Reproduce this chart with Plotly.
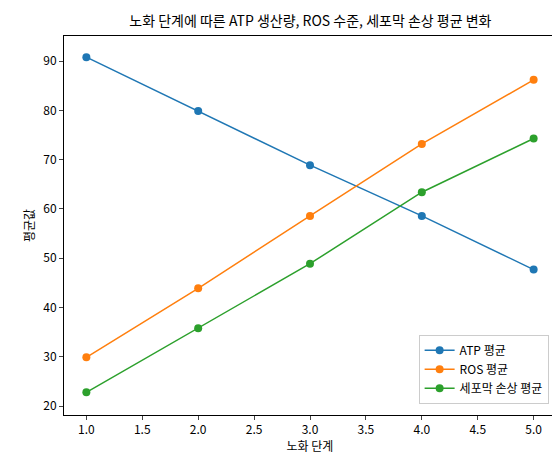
import plotly.graph_objects as go

stages = [1, 2, 3, 4, 5]
atp = [90.8, 79.9, 68.9, 58.6, 47.7]
ros = [29.9, 43.9, 58.6, 73.2, 86.2]
damage = [22.8, 35.8, 48.9, 63.4, 74.3]

names = ['ATP 평균', 'ROS 평균', '세포막 손상 평균']
colors = ['#1f77b4', '#ff7f0e', '#2ca02c']

fig = go.Figure()
for name, vals, c in zip(names, [atp, ros, damage], colors):
    fig.add_trace(go.Scatter(
        x=stages, y=vals, mode='lines+markers', name=name,
        line=dict(color=c, width=1.5), marker=dict(size=8, color=c),
        cliponaxis=False
    ))

axis_style = dict(showgrid=False, zeroline=False, showline=True, mirror=True,
                  linecolor='black', linewidth=1, ticks='outside', ticklen=4,
                  automargin=False, tickfont=dict(size=12, color='black'))

fig.update_layout(
    width=560, height=454,
    font=dict(family='Noto Sans CJK KR', color='black'),
    title=dict(text='노화 단계에 따른 ATP 생산량, ROS 수준, 세포막 손상 평균 변화',
               x=0.54, xanchor='center', yref='container', y=0.972, yanchor='middle',
               font=dict(size=14)),
    plot_bgcolor='white', paper_bgcolor='white',
    margin=dict(l=56, r=12, t=28, b=47),
    xaxis=dict(axis_style, range=[0.8, 5.2], dtick=0.5, tickformat='.1f',
               title=dict(text='노화 단계', font=dict(size=12), standoff=4)),
    yaxis=dict(axis_style, range=[18.2, 95.1], dtick=10,
               title=dict(text='평균값', font=dict(size=12), standoff=6)),
    legend=dict(x=0.985, y=0.03, xanchor='right', yanchor='bottom',
                bordercolor='#cccccc', borderwidth=1, bgcolor='white',
                font=dict(size=12)),
)

fig.write_html("out.html")
